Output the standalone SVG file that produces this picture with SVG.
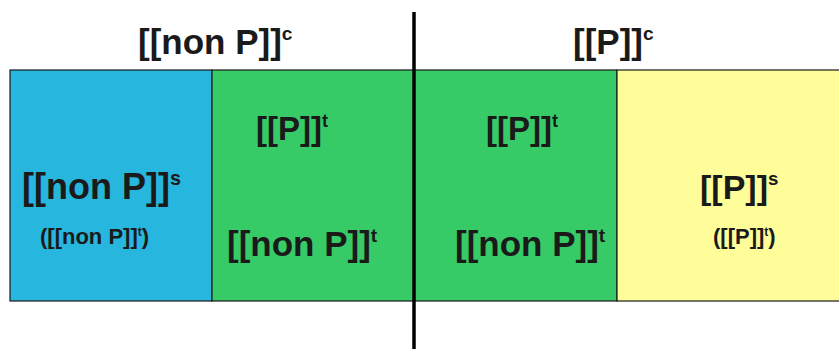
<svg xmlns="http://www.w3.org/2000/svg" width="839" height="349" viewBox="0 0 839 349">
  <style>
    .lbl { font-family: "Liberation Sans", Arial, sans-serif; font-weight: bold; fill: #1a1a1a; }
    .sup { font-size: 0.55em; }
    .box { stroke: #1a1a1a; stroke-width: 1.2; }
  </style>
  <rect width="839" height="349" fill="#ffffff"/>

  <g id="region-nonP-s">
    <rect class="box" x="10" y="70" width="202" height="231" fill="#27b6dd"/>
    <text class="lbl" x="22" y="199" font-size="36">[[non P]]<tspan class="sup" dy="-14">s</tspan></text>
    <text class="lbl" x="40" y="244" font-size="22">([[non P]]<tspan class="sup" dy="-8">t</tspan><tspan dy="8">)</tspan></text>
  </g>

  <g id="region-transition-left">
    <rect class="box" x="212" y="70" width="202" height="231" fill="#36cb66"/>
    <text class="lbl" x="256" y="140" font-size="33">[[P]]<tspan class="sup" dy="-13">t</tspan></text>
    <text class="lbl" x="227" y="256" font-size="35">[[non P]]<tspan class="sup" dy="-14">t</tspan></text>
  </g>

  <g id="region-transition-right">
    <rect class="box" x="414" y="70" width="203" height="231" fill="#36cb66"/>
    <text class="lbl" x="486" y="140" font-size="33">[[P]]<tspan class="sup" dy="-13">t</tspan></text>
    <text class="lbl" x="455" y="256" font-size="35">[[non P]]<tspan class="sup" dy="-14">t</tspan></text>
  </g>

  <g id="region-P-s">
    <rect class="box" x="617" y="70" width="230" height="231" fill="#fffd99"/>
    <text class="lbl" x="700" y="199" font-size="34">[[P]]<tspan class="sup" dy="-14">s</tspan></text>
    <text class="lbl" x="713" y="244" font-size="22">([[P]]<tspan class="sup" dy="-8">t</tspan><tspan dy="8">)</tspan></text>
  </g>

  <g id="heading-nonP-c">
    <text class="lbl" x="138" y="54" font-size="35">[[non P]]<tspan class="sup" dy="-14">c</tspan></text>
  </g>
  <g id="heading-P-c">
    <text class="lbl" x="573" y="54" font-size="35">[[P]]<tspan class="sup" dy="-14">c</tspan></text>
  </g>

  <g id="connectors">
    <line x1="414" y1="12" x2="414" y2="349" stroke="#000000" stroke-width="3.5"/>
  </g>
</svg>
